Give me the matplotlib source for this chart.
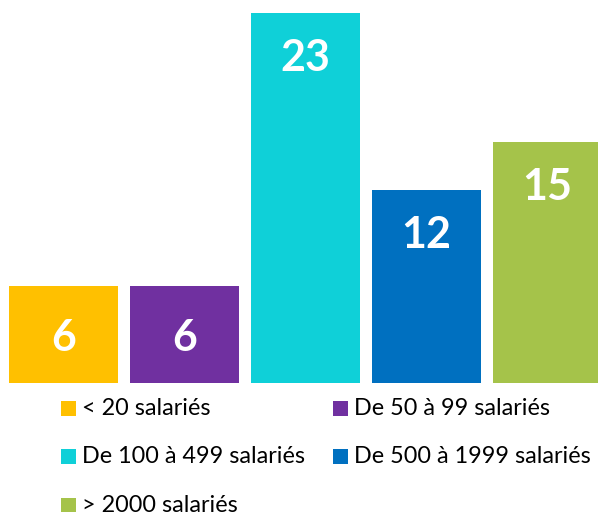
import matplotlib.pyplot as plt
from matplotlib.patches import Rectangle

# Data
categories = ["< 20 salariés", "De 50 à 99 salariés", "De 100 à 499 salariés",
              "De 500 à 1999 salariés", "> 2000 salariés"]
values = [6, 6, 23, 12, 15]
colors = ["#FFC000", "#7030A0", "#0FD0D8", "#0070C0", "#A5C34A"]

W, H = 598, 515
fig = plt.figure(figsize=(W / 100, H / 100), dpi=100)

# axes spans full width; baseline at y=383 px from top
base = 383
ax = fig.add_axes([0, (H - base) / H, 1, base / H])
pitch = 121
x0 = 63.5
ax.set_xlim(-x0 / pitch, (W - x0) / pitch)
ax.set_ylim(0, base / 16.09)
ax.axis("off")

xs = list(range(len(values)))
ax.bar(xs, values, width=109 / pitch, color=colors)

for x, v in zip(xs, values):
    off = -52 if v < 8 else -45
    ax.annotate(str(v), (x, v), xytext=(0, off * 0.72), textcoords="offset points",
                ha="center", va="center", color="white", fontsize=31,
                fontweight="bold", family="Lato")

# Legend, drawn by hand: two columns, three rows
col_x = [61, 333]
row_y = [408.5, 456.5, 505]
sq = 14.7
for i, (lab, c) in enumerate(zip(categories, colors)):
    cx = col_x[i % 2]
    cy = row_y[i // 2]
    fig.add_artist(Rectangle((cx / W, (H - cy - sq / 2) / H), sq / W, sq / H,
                             transform=fig.transFigure, color=c, lw=0))
    fig.text((cx + 21.5) / W, (H - cy) / H, lab, ha="left", va="center",
             fontsize=16.8, family="Lato", color="black")

fig.savefig("out.png", dpi=100)
